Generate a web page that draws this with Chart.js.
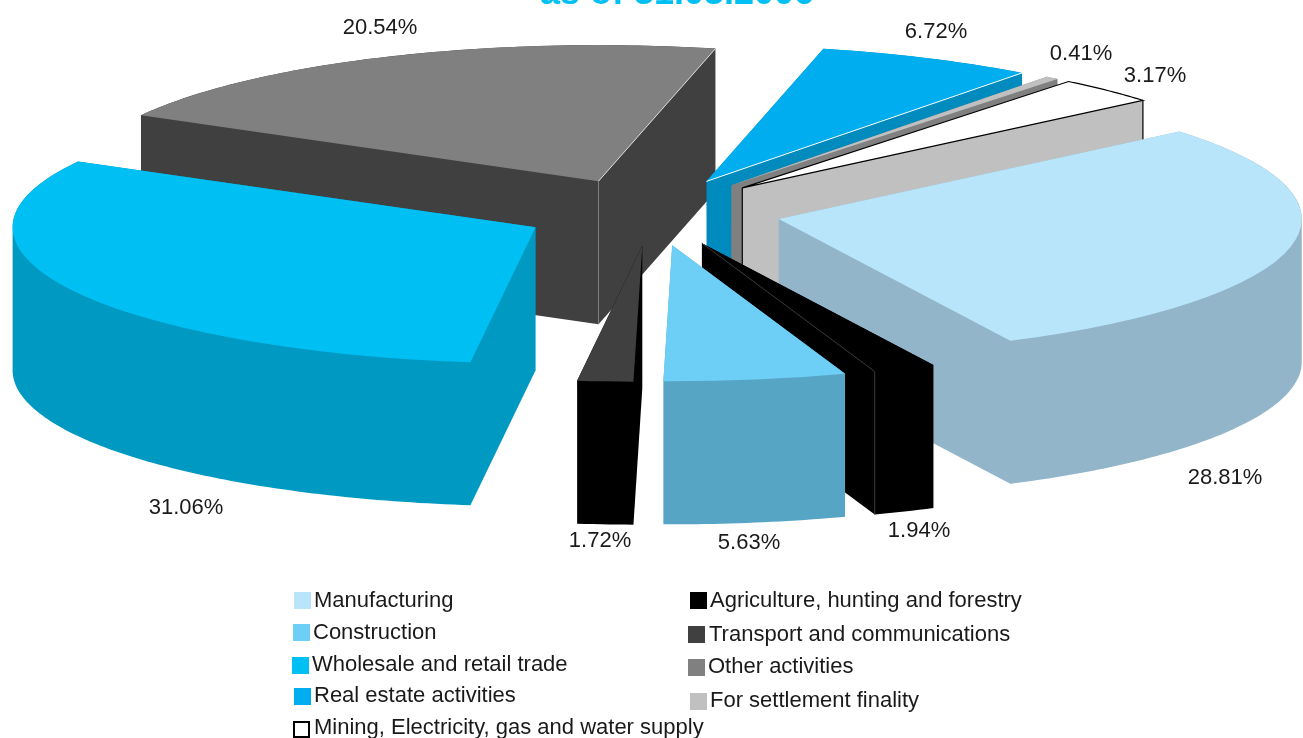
<!DOCTYPE html>
<html lang="en">
<head>
    <meta charset="UTF-8">
    <title>Sectoral distribution of credit</title>
    <style>
        * {
            margin: 0;
            padding: 0;
        }

        body {
            background-color: #ffffff;
            overflow: hidden;
        }

        .chart-box {
            position: relative;
            width: 1303px;
            height: 738px;
        }
    </style>
</head>
<body>

<div class="chart-box">
    <canvas id="sectorChart" width="1303" height="738"></canvas>
</div>

<script src="https://cdn.jsdelivr.net/npm/chart.js"></script>
<script>
    // Sector shares, clockwise from the manufacturing slice
    const sectors = [
        'Manufacturing',
        'Agriculture, hunting and forestry',
        'Construction',
        'Transport and communications',
        'Wholesale and retail trade',
        'Other activities',
        'Real estate activities',
        'For settlement finality',
        'Mining, Electricity, gas and water supply'
    ];
    const shares = [28.81, 1.94, 5.63, 1.72, 31.06, 20.54, 6.72, 0.41, 3.17];
    const topColors = ['#b9e5fb', '#000000', '#6dcff6', '#404040', '#00bff3', '#808080', '#00aeef', '#c0c0c0', '#ffffff'];
    const sideColors = ['#93b5c9', '#000000', '#57a5c5', '#000000', '#0099c2', '#404040', '#008bbf', '#808080', '#c0c0c0'];
    // Thin line along the closing edge of a slice, null for none
    const seamColors = [null, '#3a3a3a', null, null, null, '#e0e0e0', '#ffffff', null, '#000000'];

    const titleText = 'as of 31.03.2006';

    // Look of the tilted pie
    const tilt = 0.26;
    const depth = 143;
    const explode = 130;

    // Centre of each share label, same order as the shares
    const labelCentres = [
        [1225, 478], [919, 531], [749, 543], [600, 541], [186, 508],
        [380, 28], [936, 32], [1081, 54], [1155, 76]
    ];

    // Legend rows: sector index, swatch left, swatch top, text left, baseline
    const legendRows = [
        [0, 294, 592, 314, 607],
        [2, 293, 624, 313, 639],
        [4, 292, 657, 312, 671],
        [6, 294, 688, 314, 702],
        [8, 293, 721, 314, 734],
        [1, 690, 592, 710, 607],
        [3, 688, 626, 709, 641],
        [5, 688, 659, 708, 673],
        [7, 690, 693, 710, 707]
    ];

    function sliceApex(arc) {
        const mid = (arc.startAngle + arc.endAngle) / 2;
        return {
            x: arc.x + Math.cos(mid) * explode,
            y: arc.y + Math.sin(mid) * explode * tilt
        };
    }

    function rimPoint(arc, angle) {
        const apex = sliceApex(arc);
        return {
            x: apex.x + Math.cos(angle) * arc.outerRadius,
            y: apex.y + Math.sin(angle) * arc.outerRadius * tilt
        };
    }

    // Convex hull of the top face and the same face pushed down by the depth.
    // Every slice is under 180 degrees, so this is the exact solid outline.
    function solidOutline(arc) {
        const pts = [sliceApex(arc)];
        const steps = Math.ceil((arc.endAngle - arc.startAngle) * 60);
        for (let s = 0; s <= steps; s++) {
            pts.push(rimPoint(arc, arc.startAngle + (arc.endAngle - arc.startAngle) * s / steps));
        }
        const all = pts.concat(pts.map(p => ({ x: p.x, y: p.y + depth })));
        all.sort((a, b) => a.x - b.x || a.y - b.y);

        const cross = (o, a, b) => (a.x - o.x) * (b.y - o.y) - (a.y - o.y) * (b.x - o.x);
        const halfHull = list => {
            const hull = [];
            list.forEach(p => {
                while (hull.length > 1 && cross(hull[hull.length - 2], hull[hull.length - 1], p) <= 0) {
                    hull.pop();
                }
                hull.push(p);
            });
            hull.pop();
            return hull;
        };
        return halfHull(all).concat(halfHull(all.slice().reverse()));
    }

    function drawSides(ctx, arc, color) {
        ctx.fillStyle = color;
        ctx.beginPath();
        solidOutline(arc).forEach((p, n) => {
            if (n === 0) ctx.moveTo(p.x, p.y);
            else ctx.lineTo(p.x, p.y);
        });
        ctx.closePath();
        ctx.fill();
    }

    function drawTop(ctx, arc) {
        const apex = sliceApex(arc);
        ctx.save();
        ctx.translate(apex.x, apex.y);
        ctx.scale(1, tilt);
        ctx.translate(-arc.x, -arc.y);
        arc.draw(ctx);
        ctx.restore();
    }

    // Black outline for the white slice, it would vanish on the page otherwise
    function outlineTop(ctx, arc) {
        const apex = sliceApex(arc);
        ctx.save();
        ctx.beginPath();
        ctx.moveTo(apex.x, apex.y);
        const steps = 24;
        for (let s = 0; s <= steps; s++) {
            const p = rimPoint(arc, arc.startAngle + (arc.endAngle - arc.startAngle) * s / steps);
            ctx.lineTo(p.x, p.y);
        }
        ctx.closePath();
        ctx.strokeStyle = '#000000';
        ctx.lineWidth = 1.2;
        ctx.stroke();

        const end = rimPoint(arc, arc.endAngle);
        ctx.beginPath();
        ctx.moveTo(apex.x, apex.y);
        ctx.lineTo(apex.x, apex.y + depth);
        ctx.moveTo(end.x, end.y);
        ctx.lineTo(end.x, end.y + depth);
        ctx.stroke();
        ctx.restore();
    }

    function drawSeam(ctx, arc, color, i) {
        const apex = sliceApex(arc);
        const end = rimPoint(arc, arc.endAngle);
        ctx.save();
        ctx.strokeStyle = color;
        ctx.lineWidth = 1;
        ctx.beginPath();
        ctx.moveTo(apex.x, apex.y);
        ctx.lineTo(end.x, end.y);
        if (sectors[i].startsWith('Agriculture')) {
            ctx.lineTo(end.x, end.y + depth);
        }
        ctx.stroke();
        // the upright corner of the big grey slice is fainter than its top edge
        if (sectors[i].startsWith('Other')) {
            ctx.strokeStyle = '#808080';
            ctx.beginPath();
            ctx.moveTo(apex.x, apex.y);
            ctx.lineTo(apex.x, apex.y + depth);
            ctx.stroke();
        }
        ctx.restore();
    }

    const tiltedPie = {
        id: 'tiltedPie',
        beforeDatasetDraw(chart, args) {
            const ctx = chart.ctx;
            const arcs = args.meta.data.map((arc, i) => ({ arc, i }));

            // Far slices first so the near ones cover them
            arcs.sort((a, b) => {
                const midA = (a.arc.startAngle + a.arc.endAngle) / 2;
                const midB = (b.arc.startAngle + b.arc.endAngle) / 2;
                return Math.sin(midA) - Math.sin(midB);
            });

            arcs.forEach(({ arc, i }) => {
                drawSides(ctx, arc, sideColors[i]);
                drawTop(ctx, arc);
                if (topColors[i] === '#ffffff') {
                    outlineTop(ctx, arc);
                } else if (seamColors[i]) {
                    drawSeam(ctx, arc, seamColors[i], i);
                }
            });
            return false;
        },
        afterDraw(chart) {
            const ctx = chart.ctx;
            ctx.save();

            // Heading
            ctx.font = 'bold 36px "Liberation Sans"';
            ctx.fillStyle = '#00bff3';
            ctx.textAlign = 'center';
            ctx.textBaseline = 'alphabetic';
            ctx.fillText(titleText, 677, 4);

            // Share labels
            ctx.font = '22px "Liberation Sans"';
            ctx.fillStyle = '#1a1a1a';
            ctx.textBaseline = 'middle';
            shares.forEach((share, i) => {
                ctx.fillText(share.toFixed(2) + '%', labelCentres[i][0], labelCentres[i][1]);
            });

            // Legend
            ctx.textAlign = 'left';
            ctx.textBaseline = 'alphabetic';
            legendRows.forEach(([idx, boxX, boxY, textX, baseline]) => {
                ctx.fillStyle = topColors[idx];
                ctx.fillRect(boxX, boxY, 17, 17);
                if (topColors[idx] === '#ffffff') {
                    ctx.strokeStyle = '#000000';
                    ctx.lineWidth = 2;
                    ctx.strokeRect(boxX + 1, boxY + 1, 15, 15);
                }
                ctx.fillStyle = '#1a1a1a';
                ctx.fillText(sectors[idx], textX, baseline);
            });
            ctx.restore();
        }
    };

    new Chart(document.getElementById('sectorChart').getContext('2d'), {
        type: 'pie',
        data: {
            labels: sectors,
            datasets: [{
                data: shares,
                backgroundColor: topColors,
                borderWidth: 0,
                radius: 523
            }]
        },
        options: {
            responsive: false,
            animation: false,
            events: [],
            rotation: 50,
            layout: { padding: { right: 0, bottom: 314 } },
            plugins: {
                legend: { display: false },
                tooltip: { enabled: false }
            }
        },
        plugins: [tiltedPie]
    });
</script>

</body>
</html>
